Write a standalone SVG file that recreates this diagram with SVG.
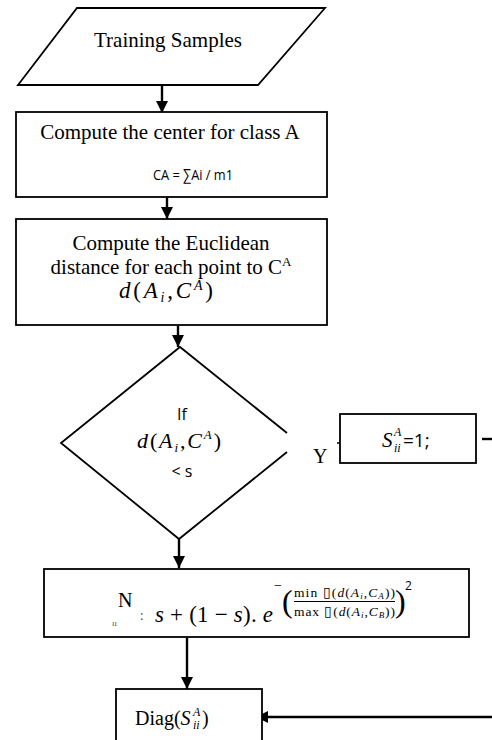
<svg xmlns="http://www.w3.org/2000/svg" width="492" height="740" viewBox="0 0 492 740">
<style>
.shape{fill:#fff;stroke:#000;stroke-width:1.8}
.conn{fill:none;stroke:#000;stroke-width:2.4}
.tm{font-family:"Liberation Serif","Times New Roman",serif;fill:#000}
.sans{font-family:"Open Sans","Liberation Sans",sans-serif;fill:#000}
.math{font-family:"Liberation Serif","Times New Roman",serif;fill:#000}
.it{font-style:italic}
</style>
<defs>
<marker id="ah" viewBox="0 0 12 12" refX="12" refY="6" markerWidth="12" markerHeight="12" markerUnits="userSpaceOnUse" orient="auto">
<path d="M0,0 L12,6 L0,12 Z" fill="#000"/>
</marker>
</defs>

<g id="connectors">
<line class="conn" x1="162" y1="85" x2="162" y2="113" marker-end="url(#ah)"/>
<line class="conn" x1="167" y1="197" x2="167" y2="219" marker-end="url(#ah)"/>
<line class="conn" x1="178" y1="326" x2="178" y2="347" marker-end="url(#ah)"/>
<line class="conn" x1="179" y1="539" x2="179" y2="568" marker-end="url(#ah)"/>
<line class="conn" x1="187" y1="638" x2="187" y2="689" marker-end="url(#ah)"/>
<line x1="337" y1="443" x2="340" y2="443" stroke="#000" stroke-width="1.5"/>
<line class="conn" x1="482" y1="439" x2="492" y2="439"/>
<line class="conn" x1="492" y1="717" x2="256" y2="717" marker-end="url(#ah)"/>
</g>

<g id="training-samples">
<polygon class="shape" points="77,8 325,8 258,85 18,85"/>
<text class="tm" x="168" y="47" text-anchor="middle" style="font-size:21px">Training Samples</text>
</g>

<g id="center-class-a">
<rect class="shape" x="16" y="112" width="311" height="85"/>
<text class="tm" x="170" y="139" text-anchor="middle" style="font-size:21px">Compute the center for class A</text>
<text class="sans" x="153" y="180" textLength="80" lengthAdjust="spacingAndGlyphs" style="font-size:15px">CA = ∑Ai / m1</text>
</g>

<g id="euclidean-distance">
<rect class="shape" x="16" y="219" width="311" height="106"/>
<text class="tm" x="171" y="250" text-anchor="middle" style="font-size:21px">Compute the Euclidean</text>
<text class="tm" x="171" y="274" text-anchor="middle" style="font-size:21px">distance for each point to C<tspan style="font-size:13px" dy="-8">A</tspan></text>
<text class="math" x="119" y="298" textLength="94" lengthAdjust="spacing" style="font-size:23px"><tspan class="it">d</tspan>(<tspan class="it">A</tspan><tspan class="it" style="font-size:14px" dy="4">i</tspan><tspan dy="-4">,</tspan><tspan class="it">C</tspan><tspan class="it" style="font-size:14px" dy="-8">A</tspan><tspan dy="8">)</tspan></text>
</g>

<g id="decision">
<path class="shape" d="M287,433 L180,347 L61,443 L179,539 L287,452"/>
<text class="sans" x="182" y="420" text-anchor="middle" style="font-size:16px">If</text>
<text class="math" x="137" y="448" textLength="84" lengthAdjust="spacing" style="font-size:22px"><tspan class="it">d</tspan>(<tspan class="it">A</tspan><tspan class="it" style="font-size:13px" dy="4">i</tspan><tspan dy="-4">,</tspan><tspan class="it">C</tspan><tspan class="it" style="font-size:13px" dy="-9">A</tspan><tspan dy="9">)</tspan></text>
<text class="sans" x="182" y="477" text-anchor="middle" style="font-size:16px">&lt; s</text>
<text class="tm" x="313" y="463" style="font-size:20px">Y</text>
</g>

<g id="set-one">
<rect class="shape" x="340" y="414" width="136" height="49"/>
<text class="math it" x="382" y="447" style="font-size:21px">S</text>
<text class="math it" x="394" y="436" style="font-size:12px">A</text>
<text class="math it" x="394" y="452" style="font-size:12px">ii</text>
<text class="sans" x="403" y="447" style="font-size:19px">=1;</text>
</g>

<g id="similarity-formula">
<rect class="shape" x="44" y="569" width="425" height="68"/>
<text class="tm" x="118" y="607" style="font-size:20px">N</text>
<text class="tm it" x="112" y="626" style="font-size:9px;fill:#555">ιι</text>
<text class="sans" x="140" y="620" style="font-size:13px;fill:#444">:</text>
<text class="math" x="155" y="622" textLength="118" lengthAdjust="spacing" style="font-size:23px"><tspan class="it">s</tspan> + (1 − <tspan class="it">s</tspan>). <tspan class="it">e</tspan></text>
<text class="math" x="274" y="590" style="font-size:14px">−</text>
<text class="math" x="282" y="612" style="font-size:32px">(</text>
<text class="math" x="294" y="597" textLength="101" lengthAdjust="spacing" style="font-size:13.5px">min ▯(<tspan class="it">d</tspan>(<tspan class="it">A</tspan><tspan class="it" style="font-size:9px" dy="2">i</tspan><tspan dy="-2">,</tspan><tspan class="it">C</tspan><tspan class="it" style="font-size:9px" dy="2">A</tspan><tspan dy="-2">))</tspan></text>
<line x1="294" y1="601.5" x2="395" y2="601.5" stroke="#000" stroke-width="1"/>
<text class="math" x="294" y="616" textLength="101" lengthAdjust="spacing" style="font-size:13.5px">max ▯(<tspan class="it">d</tspan>(<tspan class="it">A</tspan><tspan class="it" style="font-size:9px" dy="2">i</tspan><tspan dy="-2">,</tspan><tspan class="it">C</tspan><tspan class="it" style="font-size:9px" dy="2">B</tspan><tspan dy="-2">))</tspan></text>
<text class="math" x="395" y="612" style="font-size:32px">)</text>
<text class="sans" x="405" y="590" style="font-size:12px">2</text>
</g>

<g id="diag">
<rect class="shape" x="116" y="689" width="146" height="60"/>
<text class="tm" x="135" y="725" style="font-size:20px">Diag(<tspan class="it">S</tspan></text>
<text class="tm it" x="193" y="716" style="font-size:12px">A</text>
<text class="tm it" x="193" y="729" style="font-size:12px">ii</text>
<text class="tm" x="202" y="725" style="font-size:20px">)</text>
</g>
</svg>
